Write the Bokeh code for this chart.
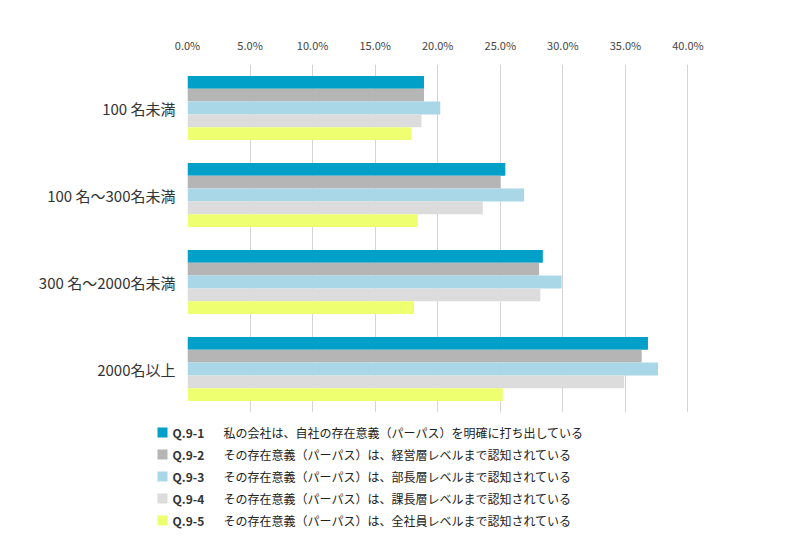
from bokeh.plotting import figure
from bokeh.models import ColumnDataSource, FactorRange, Range1d, FixedTicker, PrintfTickFormatter
from bokeh.transform import dodge
from bokeh.core.properties import value
from bokeh.embed import file_html
from bokeh.resources import INLINE

# ---- data ----
groups = ["100 名未満", "100 名～300名未満", "300 名～2000名未満", "2000名以上"]
series = ["Q.9-1", "Q.9-2", "Q.9-3", "Q.9-4", "Q.9-5"]
descriptions = [
    "私の会社は、自社の存在意義（パーパス）を明確に打ち出している",
    "その存在意義（パーパス）は、経営層レベルまで認知されている",
    "その存在意義（パーパス）は、部長層レベルまで認知されている",
    "その存在意義（パーパス）は、課長層レベルまで認知されている",
    "その存在意義（パーパス）は、全社員レベルまで認知されている",
]
q1 = [18.9, 25.4, 28.4, 36.8]
q2 = [18.9, 25.0, 28.1, 36.3]
q3 = [20.2, 26.9, 29.9, 37.6]
q4 = [18.7, 23.6, 28.2, 34.9]
q5 = [17.9, 18.4, 18.1, 25.2]
x_ticks = [0, 5, 10, 15, 20, 25, 30, 35, 40]

colors = ["#00a0c8", "#b5b5b5", "#a9d7e7", "#dcdcdc", "#eeff70"]
FONT = "Noto Sans CJK JP"

values = [q1, q2, q3, q4, q5]
src = ColumnDataSource(dict(group=groups, **{f"s{i}": v for i, v in enumerate(values)}))

p = figure(
    width=784, height=418,
    y_range=FactorRange(factors=list(reversed(groups)), range_padding=0),
    x_range=Range1d(0, 41),
    x_axis_location="above",
    output_backend="svg", toolbar_location=None,
    min_border_left=187, min_border_right=84, min_border_top=64, min_border_bottom=6,
)
p.outline_line_color = None
p.background_fill_color = "white"
p.border_fill_color = "white"

bar_h = 0.147
for i, v in enumerate(values):
    off = (2 - i) * bar_h
    p.hbar(y=dodge("group", off, range=p.y_range), left=0, right=f"s{i}", height=bar_h,
           source=src, fill_color=colors[i], line_color=None)

ax = p.xaxis[0]
ax.ticker = FixedTicker(ticks=x_ticks)
ax.formatter = PrintfTickFormatter(format="%.1f%%")
ax.axis_line_color = None
ax.major_tick_line_color = None
ax.minor_tick_line_color = None
ax.major_label_text_font = FONT
ax.major_label_text_font_size = "11px"
ax.major_label_text_color = "#444444"
ax.major_label_standoff = 6

ay = p.yaxis[0]
ay.axis_line_color = None
ay.major_tick_line_color = None
ay.minor_tick_line_color = None
ay.major_label_text_font = FONT
ay.major_label_text_font_size = "15px"
ay.major_label_text_color = "#333333"
ay.major_label_standoff = 6

p.xgrid.ticker = FixedTicker(ticks=x_ticks)
p.xgrid.grid_line_color = "#d4d4d4"
p.ygrid.grid_line_color = None

# ---- legend panel (separate root, so its frame is not aligned to the chart's) ----
LW, LH = 784, 126
lg = figure(width=LW, height=LH, x_range=Range1d(0, LW), y_range=Range1d(LH, 0),
            x_axis_type=None, y_axis_type=None,
            output_backend="svg", toolbar_location=None,
            min_border=0, min_border_left=0, min_border_right=0,
            min_border_top=0, min_border_bottom=0)
lg.grid.visible = False
lg.outline_line_color = None

row_y = [14 + 22 * i for i in range(len(series))]
lsrc = ColumnDataSource(dict(y=row_y, name=series, desc=descriptions, color=colors))
lg.rect(x=162, y="y", width=10, height=10, width_units="screen", height_units="screen",
        fill_color="color", line_color=None, source=lsrc)
lg.text(x=172, y="y", text="name", source=lsrc, text_font=value(FONT), text_font_style="bold",
        text_font_size="12px", text_color="#333333", text_baseline="middle", text_align="left")
lg.text(x=223, y="y", text="desc", source=lsrc, text_font=value(FONT),
        text_font_size="12px", text_color="#222222", text_baseline="middle", text_align="left")

open("out.html", "w").write(file_html([p, lg], INLINE))
